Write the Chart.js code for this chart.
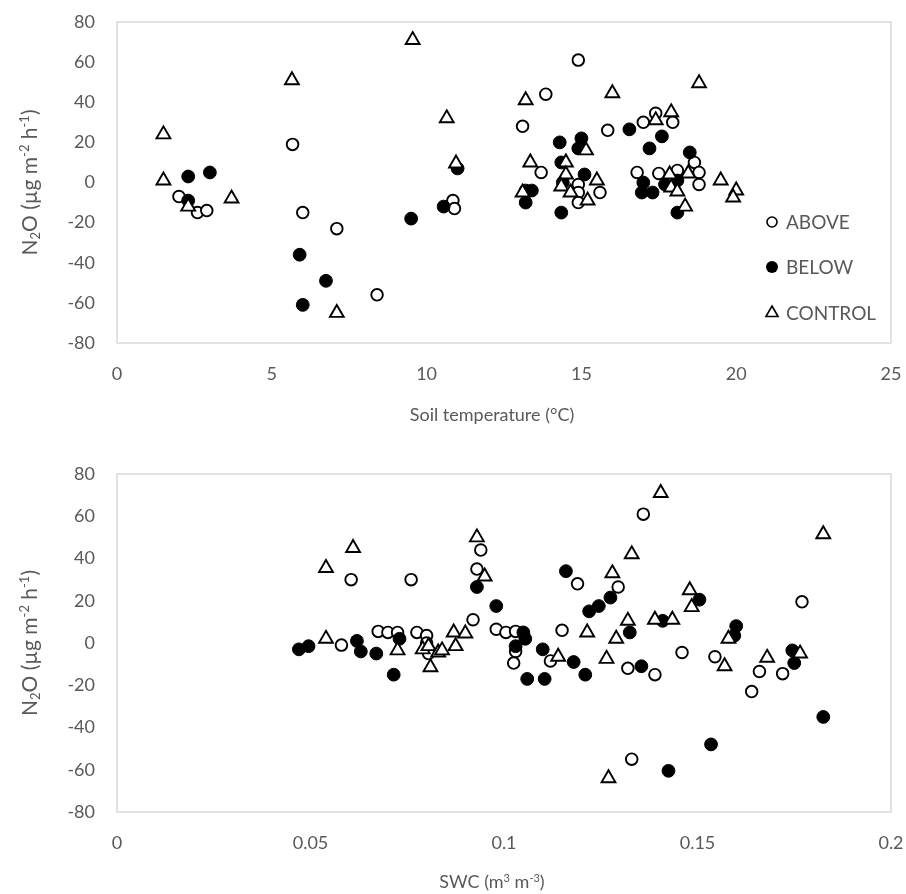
<!DOCTYPE html>
<html>
<head>
<meta charset="utf-8">
<script src="https://cdn.jsdelivr.net/npm/chart.js@4.4.1/dist/chart.umd.min.js"></script>
<style>
  body { margin: 0; background: #fff; }
  #top { position: absolute; left: 0; top: 0; width: 906px; height: 440px; }
  #bottom { position: absolute; left: 0; top: 440px; width: 906px; height: 454px; }
</style>
</head>
<body>
<div id="top"><canvas id="chartTemp"></canvas></div>
<div id="bottom"><canvas id="chartSwc"></canvas></div>
<script>
// ---- data ----
const seriesNames = ['ABOVE', 'BELOW', 'CONTROL'];

// top panel: soil temperature (°C) vs N2O flux
const tempAboveX = [5.67, 2.0, 2.6, 2.9, 6.0, 7.1, 8.4, 10.85, 10.9, 13.1, 13.85, 13.7, 14.9, 15.85, 17.0, 17.4, 17.95, 14.9, 14.9, 14.9, 15.6, 16.8, 17.5, 18.1, 18.65, 18.8, 18.8];
const tempAboveY = [19, -7, -15, -14, -15, -23, -56, -9, -13, 28, 44, 5, 61, 26, 30, 34.5, 30, -1, -5, -10, -5, 5, 4.5, 6, 10, 5, -1];
const tempBelowX = [2.3, 3.0, 2.3, 5.9, 6.75, 6.0, 9.5, 10.55, 11.0, 13.2, 13.4, 13.2, 14.3, 15.0, 14.9, 14.35, 15.1, 14.4, 14.35, 16.55, 17.6, 17.2, 18.5, 17.0, 16.95, 17.3, 17.7, 18.1, 18.1];
const tempBelowY = [3, 5, -9, -36, -49, -61, -18, -12, 7, -4, -4, -10, 20, 22, 17, 10, 4, 0, -15, 26.5, 23, 17, 15, 0, -5, -5, -1, 1, -15];
const tempControlX = [1.5, 1.5, 2.3, 3.7, 5.65, 7.1, 9.55, 10.65, 10.95, 13.2, 13.35, 13.1, 16.0, 18.8, 17.9, 17.4, 15.15, 14.5, 14.5, 14.35, 14.65, 15.5, 15.2, 17.85, 18.45, 17.9, 18.1, 18.35, 19.5, 20.0, 19.9];
const tempControlY = [24, 1, -12, -8, 51, -65, 71, 32, 9.5, 41, 10, -5, 44.5, 49.5, 35, 31, 16, 10, 4, -2, -5, 1, -9, 4, 4.5, -2.5, -4.5, -12, 1, -4, -7.5];

// bottom panel: SWC (m3 m-3) vs N2O flux
const swcAboveX = [0.0605, 0.076, 0.094, 0.093, 0.092, 0.058, 0.0675, 0.070, 0.0725, 0.0775, 0.080, 0.080, 0.0805, 0.098, 0.136, 0.119, 0.1295, 0.115, 0.1005, 0.103, 0.103, 0.1025, 0.112, 0.132, 0.139, 0.133, 0.146, 0.177, 0.1545, 0.166, 0.172, 0.164];
const swcAboveY = [30, 30, 44, 35, 11, -1, 5.5, 5, 5, 5, 3.5, 0, -5, 6.5, 61, 28, 26.5, 6, 5, 5.5, -4, -9.5, -8.5, -12, -15, -55, -4.5, 19.5, -6.5, -13.5, -14.5, -23];
const swcBelowX = [0.047, 0.0495, 0.062, 0.063, 0.067, 0.073, 0.0715, 0.093, 0.098, 0.105, 0.1055, 0.103, 0.110, 0.106, 0.1105, 0.116, 0.118, 0.121, 0.122, 0.1245, 0.1275, 0.1325, 0.1355, 0.141, 0.1425, 0.1505, 0.160, 0.1595, 0.1745, 0.175, 0.1825, 0.1535];
const swcBelowY = [-3, -1.5, 1, -4, -5, 2, -15, 26.5, 17.5, 5, 2, -1.5, -3, -17, -17, 34, -9, -15, 15, 17.5, 21.5, 5, -11, 10.5, -60.5, 20.5, 8, 3.5, -3.5, -9.5, -35, -48];
const swcControlX = [0.054, 0.061, 0.093, 0.095, 0.054, 0.0725, 0.079, 0.0805, 0.081, 0.083, 0.084, 0.087, 0.090, 0.0875, 0.1405, 0.133, 0.128, 0.132, 0.1215, 0.129, 0.1265, 0.114, 0.139, 0.1435, 0.127, 0.1825, 0.148, 0.1485, 0.158, 0.157, 0.168, 0.1765];
const swcControlY = [35.5, 45, 50, 31.5, 2, -3.5, -3, -1.5, -11.5, -4.5, -3.5, 5, 4.5, -1.5, 71, 42, 33, 10.5, 5, 2, -7.5, -6.5, 11, 11, -64, 51.5, 25, 17, 2, -11, -7, -5];

// tick labels
const fluxTicks = [-80, -60, -40, -20, 0, 20, 40, 60, 80];
const tempTicks = [0, 5, 10, 15, 20, 25];
const swcTicks = [0, 0.05, 0.1, 0.15, 0.2];
const swcTickLabels = ['0', '0.05', '0.1', '0.15', '0.2'];

// ---- styling ----
const FONT = 'Lato, "Open Sans", sans-serif';
const GREY = '#595959';
const FRAME = '#d9d9d9';

function toPoints(xs, ys) {
  return xs.map((x, i) => ({ x: x, y: ys[i] }));
}

function makeDatasets(aX, aY, bX, bY, cX, cY) {
  return [
    { label: seriesNames[0], data: toPoints(aX, aY), pointStyle: 'circle', pointRadius: 5.8,
      pointBackgroundColor: '#ffffff', pointBorderColor: '#000000', pointBorderWidth: 1.9, order: 3 },
    { label: seriesNames[1], data: toPoints(bX, bY), pointStyle: 'circle', pointRadius: 6.4,
      pointBackgroundColor: '#000000', pointBorderColor: '#000000', pointBorderWidth: 1, order: 2 },
    { label: seriesNames[2], data: toPoints(cX, cY), pointStyle: 'triangle', pointRadius: 8,
      pointBackgroundColor: '#ffffff', pointBorderColor: '#000000', pointBorderWidth: 1.9, order: 1 }
  ];
}

// text with sub/superscripts
function drawRich(ctx, parts, x, y, size, rotate) {
  const small = Math.round(size * 0.62);
  ctx.save();
  ctx.translate(x, y);
  if (rotate) ctx.rotate(-Math.PI / 2);
  let w = 0;
  parts.forEach(p => {
    ctx.font = (p.s ? small : size) + 'px ' + FONT;
    w += ctx.measureText(p.t).width;
  });
  let cx = -w / 2;
  ctx.fillStyle = GREY;
  ctx.textBaseline = 'alphabetic';
  ctx.textAlign = 'left';
  parts.forEach(p => {
    ctx.font = (p.s ? small : size) + 'px ' + FONT;
    let dy = 0;
    if (p.s === 'sup') dy = -size * 0.36;
    if (p.s === 'sub') dy = size * 0.16;
    ctx.fillText(p.t, cx, size * 0.36 + dy);
    cx += ctx.measureText(p.t).width;
  });
  ctx.restore();
}

const fluxTitle = [{ t: 'N' }, { t: '2', s: 'sub' }, { t: 'O (µg m' }, { t: '-2', s: 'sup' }, { t: ' h' }, { t: '-1', s: 'sup' }, { t: ')' }];

function framePlugin() {
  return {
    id: 'frame',
    beforeDatasetsDraw(chart) {
      const a = chart.chartArea, ctx = chart.ctx;
      ctx.save();
      ctx.strokeStyle = FRAME;
      ctx.lineWidth = 1.5;
      ctx.strokeRect(a.left, a.top, a.right - a.left, a.bottom - a.top);
      ctx.restore();
    }
  };
}

function titlesPlugin(xParts, xTitleY, xTitleX) {
  return {
    id: 'titles',
    afterDraw(chart) {
      const a = chart.chartArea, ctx = chart.ctx;
      drawRich(ctx, fluxTitle, 29, (a.top + a.bottom) / 2, 21, true);
      drawRich(ctx, xParts, xTitleX, xTitleY, 18, false);
    }
  };
}

const legendPlugin = {
  id: 'innerLegend',
  afterDraw(chart) {
    const ctx = chart.ctx;
    const mx = 772, ys = [222, 267, 313];
    ctx.save();
    ctx.strokeStyle = '#000';
    ctx.lineWidth = 1.6;
    // ABOVE
    ctx.beginPath(); ctx.arc(mx, ys[0], 5, 0, Math.PI * 2);
    ctx.fillStyle = '#fff'; ctx.fill(); ctx.stroke();
    // BELOW
    ctx.beginPath(); ctx.arc(mx, ys[1], 6, 0, Math.PI * 2);
    ctx.fillStyle = '#000'; ctx.fill();
    // CONTROL
    const r = 7;
    ctx.beginPath();
    ctx.moveTo(mx, ys[2] - r);
    ctx.lineTo(mx + r * 0.87, ys[2] + r * 0.5);
    ctx.lineTo(mx - r * 0.87, ys[2] + r * 0.5);
    ctx.closePath();
    ctx.fillStyle = '#fff'; ctx.fill(); ctx.stroke();
    ctx.fillStyle = GREY;
    ctx.font = '19px ' + FONT;
    ctx.textBaseline = 'middle';
    ctx.textAlign = 'left';
    seriesNames.forEach((n, i) => ctx.fillText(n, 786, ys[i] + 1));
    ctx.restore();
  }
};

function makeChart(id, datasets, xMin, xMax, xTicks, xLabels, padTop, xAxisHeight, plugins) {
  return new Chart(document.getElementById(id), {
    type: 'scatter',
    data: { datasets: datasets },
    options: {
      responsive: true,
      maintainAspectRatio: false,
      animation: false,
      layout: { padding: { top: padTop, right: 15, left: 0, bottom: 0 } },
      plugins: { legend: { display: false }, tooltip: { enabled: false } },
      scales: {
        x: {
          type: 'linear', min: xMin, max: xMax,
          grid: { display: false, drawTicks: false },
          border: { display: false },
          afterBuildTicks: s => { s.ticks = xTicks.map(v => ({ value: v })); },
          afterFit: s => { s.height = xAxisHeight; s.paddingLeft = 0; s.paddingRight = 0; },
          ticks: {
            color: GREY, font: { family: FONT, size: 18 }, padding: 20, maxRotation: 0,
            callback: (v, i) => xLabels ? xLabels[i] : String(v)
          }
        },
        y: {
          type: 'linear', min: -80, max: 80,
          grid: { display: false, drawTicks: false },
          border: { display: false },
          afterBuildTicks: s => { s.ticks = fluxTicks.map(v => ({ value: v })); },
          afterFit: s => { s.width = 117; s.paddingTop = 0; s.paddingBottom = 0; },
          ticks: { color: GREY, font: { family: FONT, size: 18 }, padding: 22 }
        }
      }
    },
    plugins: plugins
  });
}

makeChart('chartTemp',
  makeDatasets(tempAboveX, tempAboveY, tempBelowX, tempBelowY, tempControlX, tempControlY),
  0, 25, tempTicks, null, 22, 97,
  [framePlugin(), titlesPlugin([{ t: 'Soil temperature (°C)' }], 415, 492), legendPlugin]);

makeChart('chartSwc',
  makeDatasets(swcAboveX, swcAboveY, swcBelowX, swcBelowY, swcControlX, swcControlY),
  0, 0.2, swcTicks, swcTickLabels, 34, 82,
  [framePlugin(), titlesPlugin([{ t: 'SWC (m' }, { t: '3', s: 'sup' }, { t: ' m' }, { t: '-3', s: 'sup' }, { t: ')' }], 442, 492)]);
</script>
</body>
</html>
